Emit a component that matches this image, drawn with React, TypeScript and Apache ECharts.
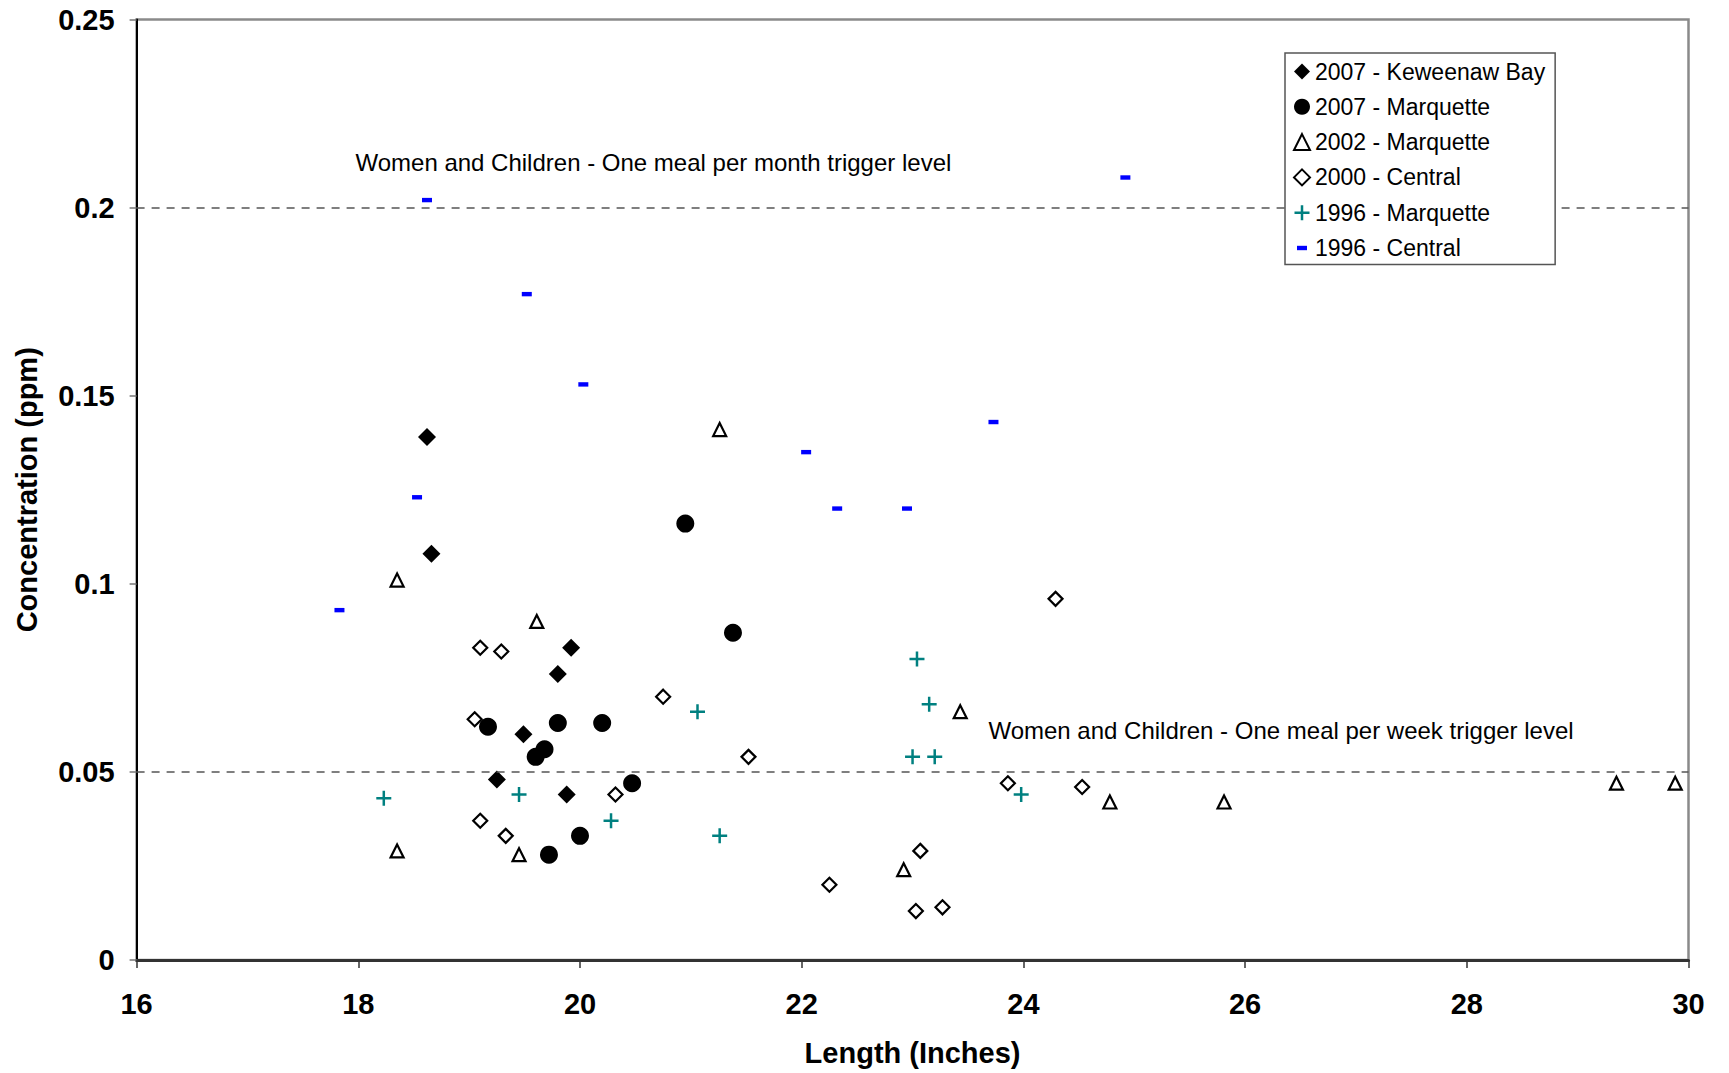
import React, { useEffect, useRef } from "react";
import * as echarts from "echarts";

// ---- Data (Length in inches, Concentration in ppm) ----
const keweenawBay2007: number[][] = [
  [18.62, 0.139], [18.66, 0.108], [19.92, 0.083], [19.8, 0.076],
  [19.49, 0.06], [19.25, 0.048], [19.88, 0.044],
];
const marquette2007: number[][] = [
  [20.95, 0.116], [21.38, 0.087], [19.17, 0.062], [19.8, 0.063], [20.2, 0.063],
  [19.68, 0.056], [19.6, 0.054], [20.47, 0.047], [20.0, 0.033], [19.72, 0.028],
];
const marquette2002: number[][] = [
  [21.26, 0.141], [18.35, 0.101], [19.61, 0.09], [23.43, 0.066], [24.78, 0.042],
  [25.81, 0.042], [29.35, 0.047], [29.88, 0.047], [18.35, 0.029], [19.45, 0.028],
  [22.92, 0.024],
];
const central2000: number[][] = [
  [24.29, 0.096], [19.1, 0.083], [19.29, 0.082], [20.75, 0.07], [19.05, 0.064],
  [21.52, 0.054], [23.86, 0.047], [24.53, 0.046], [20.32, 0.044], [19.1, 0.037],
  [19.33, 0.033], [23.07, 0.029], [22.25, 0.02], [23.03, 0.013], [23.27, 0.014],
];
const marquette1996: number[][] = [
  [23.04, 0.08], [23.15, 0.068], [21.06, 0.066], [23.0, 0.054], [23.2, 0.054],
  [23.98, 0.044], [18.23, 0.043], [19.45, 0.044], [20.28, 0.037], [21.26, 0.033],
];
const central1996: number[][] = [
  [18.62, 0.202], [24.92, 0.208], [19.52, 0.177], [20.03, 0.153], [23.73, 0.143],
  [22.04, 0.135], [18.53, 0.123], [22.32, 0.12], [22.95, 0.12], [17.83, 0.093],
];

const seriesNames = [
  "2007 - Keweenaw Bay",
  "2007 - Marquette",
  "2002 - Marquette",
  "2000 - Central",
  "1996 - Marquette",
  "1996 - Central",
];

const triggerLevels = [0.2, 0.05];
const triggerLabels = [
  "Women and Children - One meal per month trigger level",
  "Women and Children - One meal per week trigger level",
];
const triggerLabelAnchors: number[][] = [
  [17.97, 0.2121],
  [23.68, 0.0609],
];

const xMin = 16, xMax = 30, xInterval = 2;
const yMin = 0, yMax = 0.25, yInterval = 0.05;

const FONT = "'Liberation Sans', Arial, Helvetica, sans-serif";
const plusPath = "path://M0,0 M16,16 M6.75,0.5 H9.25 V6.75 H15.5 V9.25 H9.25 V15.5 H6.75 V9.25 H0.5 V6.75 H6.75 Z";
const dashPath = "path://M0,0 M16,16 M3,5.8 H13 V10.2 H3 Z";

export default function App() {
  const ref = useRef<HTMLDivElement>(null);

  useEffect(() => {
    if (!ref.current) return;
    const chart = echarts.init(ref.current, undefined, { renderer: "svg" });

    const option: any = {
      animation: false,
      backgroundColor: "#ffffff",
      textStyle: { fontFamily: FONT },
      grid: {
        left: 136.6,
        right: 40.5,
        top: 19.5,
        bottom: 113,
        show: true,
        borderColor: "#8a8a8a",
        borderWidth: 2.5,
        backgroundColor: "transparent",
      },
      legend: {
        data: seriesNames,
        orient: "vertical",
        left: 1285,
        top: 53,
        z: 50,
        zlevel: 0,
        itemWidth: 16,
        itemHeight: 16,
        itemGap: 12.3,
        padding: [7, 10, 5, 8],
        backgroundColor: "#ffffff",
        borderColor: "#555555",
        borderWidth: 1.5,
        borderRadius: 0,
        selectedMode: false,
        textStyle: { fontSize: 23, color: "#000", fontFamily: FONT, lineHeight: 23 },
      },
      xAxis: {
        type: "value",
        min: xMin,
        max: xMax,
        interval: xInterval,
        splitLine: { show: false },
        axisLine: { show: true, onZero: false, lineStyle: { color: "#333", width: 3 } },
        axisTick: { show: true, length: 8, lineStyle: { color: "#333", width: 1.5 } },
        axisLabel: {
          fontSize: 29, fontWeight: "bold", color: "#000", margin: 29, fontFamily: FONT,
        },
        name: "Length (Inches)",
        nameLocation: "middle",
        nameGap: 78,
        nameTextStyle: { fontSize: 29, fontWeight: "bold", color: "#000", fontFamily: FONT },
      },
      yAxis: {
        type: "value",
        min: yMin,
        max: yMax,
        interval: yInterval,
        splitLine: { show: false },
        axisLine: { show: true, onZero: false, lineStyle: { color: "#000", width: 2 } },
        axisTick: { show: true, length: 7, lineStyle: { color: "#777", width: 1.5 } },
        axisLabel: {
          fontSize: 29, fontWeight: "bold", color: "#000", margin: 22, fontFamily: FONT,
          formatter: (v: number) => String(parseFloat(v.toFixed(2))),
        },
        name: "Concentration (ppm)",
        nameLocation: "middle",
        nameGap: 95,
        nameTextStyle: { fontSize: 29, fontWeight: "bold", color: "#000", fontFamily: FONT },
      },
      series: [
        {
          name: "trigger levels",
          type: "scatter",
          silent: true,
          symbolSize: 1,
          itemStyle: { color: "rgba(0,0,0,0)", opacity: 1 },
          data: triggerLabelAnchors.map((p, i) => ({
            value: p,
            label: { formatter: triggerLabels[i] },
          })),
          label: {
            show: true,
            position: "right",
            distance: 0,
            color: "#000",
            opacity: 1,
            fontSize: 24,
            fontFamily: FONT,
          },
          markLine: {
            silent: true,
            symbol: ["none", "none"],
            label: { show: false },
            lineStyle: { type: [8, 7], color: "#555", width: 1.5, opacity: 1 },
            data: triggerLevels.map((v) => ({ yAxis: v })),
          },
          z: 1,
        },
        {
          name: seriesNames[3],
          type: "scatter",
          data: central2000,
          symbol: "diamond",
          symbolSize: 14,
          itemStyle: { color: "#ffffff", borderColor: "#000", borderWidth: 2.2, opacity: 1 },
          z: 2,
        },
        {
          name: seriesNames[2],
          type: "scatter",
          data: marquette2002,
          symbol: "triangle",
          symbolSize: 13,
          itemStyle: { color: "#ffffff", borderColor: "#000", borderWidth: 2.2, opacity: 1 },
          z: 2,
        },
        {
          name: seriesNames[4],
          type: "scatter",
          data: marquette1996,
          symbol: plusPath,
          symbolSize: 16,
          itemStyle: { color: "#008080", opacity: 1 },
          z: 3,
        },
        {
          name: seriesNames[5],
          type: "scatter",
          data: central1996,
          symbol: dashPath,
          symbolSize: 16,
          itemStyle: { color: "#0000ff", opacity: 1 },
          z: 3,
        },
        {
          name: seriesNames[1],
          type: "scatter",
          data: marquette2007,
          symbol: "circle",
          symbolSize: 18,
          itemStyle: { color: "#000", opacity: 1 },
          z: 4,
        },
        {
          name: seriesNames[0],
          type: "scatter",
          data: keweenawBay2007,
          symbol: "diamond",
          symbolSize: 18,
          itemStyle: { color: "#000", opacity: 1 },
          z: 4,
        },
      ],
    };

    chart.setOption(option);
    return () => chart.dispose();
  }, []);

  return (
    <div
      ref={ref}
      style={{ position: "absolute", left: 0, top: 0, width: 1729, height: 1073, background: "#fff" }}
    />
  );
}
